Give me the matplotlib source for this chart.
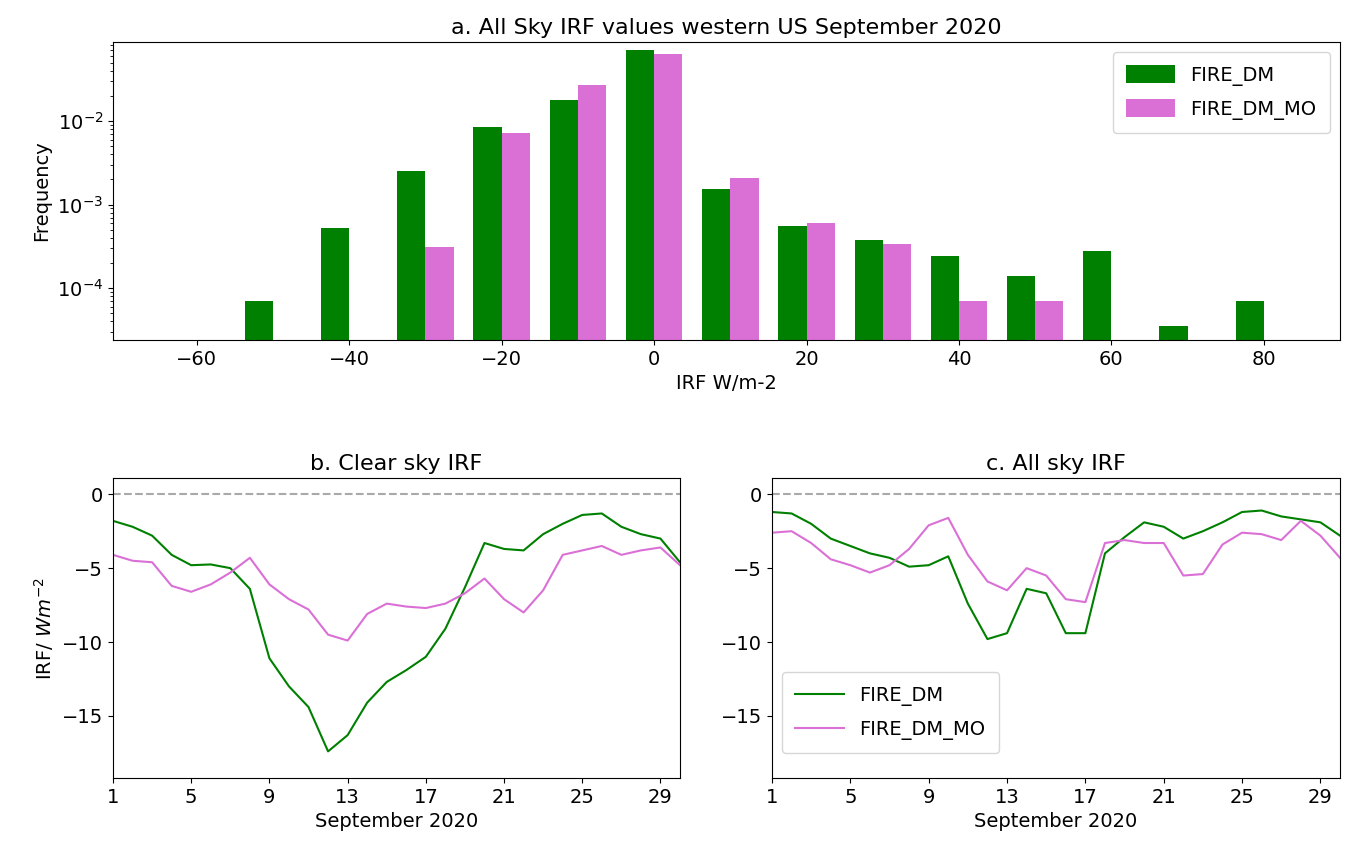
import numpy as np
import matplotlib
matplotlib.use("Agg")
import matplotlib.pyplot as plt

plt.rcParams["font.size"] = 14

# histogram data
bin_centers = [-50, -40, -30, -20, -10, 0, 10, 20, 30, 40, 50, 60, 70, 80]
freq_dm = [7e-5, 5.2e-4, 2.5e-3, 8.5e-3, 1.8e-2, 7e-2, 1.55e-3, 5.5e-4, 3.8e-4, 2.4e-4, 1.4e-4, 2.8e-4, 3.5e-5, 7e-5]
freq_mo = [0, 0, 3.1e-4, 7.2e-3, 2.7e-2, 6.3e-2, 2.1e-3, 6e-4, 3.4e-4, 7e-5, 7e-5, 0, 0, 0]

days = np.arange(1, 31)
clear_dm = [-1.8, -2.2, -2.8, -4.1, -4.8, -4.75, -5.0, -6.4, -11.1, -13.0, -14.4, -17.4, -16.3, -14.1, -12.7,
            -11.9, -11.0, -9.1, -6.3, -3.3, -3.7, -3.8, -2.7, -2.0, -1.4, -1.3, -2.2, -2.7, -3.0, -4.6]
clear_mo = [-4.1, -4.5, -4.6, -6.2, -6.6, -6.1, -5.3, -4.3, -6.1, -7.1, -7.8, -9.5, -9.9, -8.1, -7.4,
            -7.6, -7.7, -7.4, -6.7, -5.7, -7.1, -8.0, -6.5, -4.1, -3.8, -3.5, -4.1, -3.8, -3.6, -4.8]
all_dm = [-1.2, -1.3, -2.0, -3.0, -3.5, -4.0, -4.3, -4.9, -4.8, -4.2, -7.4, -9.8, -9.4, -6.4, -6.7,
          -9.4, -9.4, -4.0, -2.9, -1.9, -2.2, -3.0, -2.5, -1.9, -1.2, -1.1, -1.5, -1.7, -1.9, -2.8]
all_mo = [-2.6, -2.5, -3.3, -4.4, -4.8, -5.3, -4.8, -3.7, -2.1, -1.6, -4.1, -5.9, -6.5, -5.0, -5.5,
          -7.1, -7.3, -3.3, -3.1, -3.3, -3.3, -5.5, -5.4, -3.4, -2.6, -2.7, -3.1, -1.8, -2.8, -4.3]

W, H = 1349, 857
fig = plt.figure(figsize=(W / 100, H / 100), dpi=100)

def box(l, t, r, b):
    return [l / W, 1 - b / H, (r - l) / W, (b - t) / H]

ax = fig.add_axes(box(113, 42, 1340, 340))
c = np.array(bin_centers)
w = 3.7
ax.bar(c - w / 2, freq_dm, width=w, color="green", label="FIRE_DM")
ax.bar(c + w / 2, [v if v > 0 else np.nan for v in freq_mo], width=w, color="orchid", label="FIRE_DM_MO")
ax.set_yscale("log")
ax.set_ylim(2.4e-5, 0.088)
ax.set_xlim(-71, 90)
ax.set_xlabel("IRF W/m-2")
ax.set_ylabel("Frequency")
ax.set_title("a. All Sky IRF values western US September 2020", fontsize=16)
ax.legend(loc="upper right", handlelength=2.5, handleheight=1.0, borderpad=0.7, labelspacing=0.7)

axb = fig.add_axes(box(113, 478, 680, 778))
axc = fig.add_axes(box(772, 478, 1340, 778))
for a, dm, mo, t in [(axb, clear_dm, clear_mo, "b. Clear sky IRF"), (axc, all_dm, all_mo, "c. All sky IRF")]:
    a.plot(days, dm, color="green", label="FIRE_DM")
    a.plot(days, mo, color="orchid", label="FIRE_DM_MO")
    a.axhline(0, color="darkgray", linestyle="--")
    a.set_xlim(1, 30)
    a.set_xticks(range(1, 30, 4))
    a.set_ylim(-19.2, 1.1)
    a.set_yticks([0, -5, -10, -15])
    a.set_xlabel("September 2020")
    a.set_title(t, fontsize=16)
axb.set_ylabel("IRF/ $Wm^{-2}$")
axc.legend(loc="lower left", bbox_to_anchor=(0.0, 0.05), handlelength=2.5, borderpad=0.7, labelspacing=0.7)

fig.savefig("out.png")
